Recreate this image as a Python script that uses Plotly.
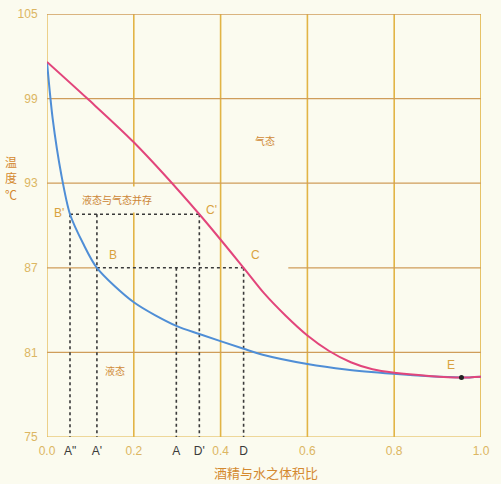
import plotly.graph_objects as go

# ---------------- data ----------------
# vapour (red) curve: volume fraction of alcohol vs temperature
red_x = [0.0, 0.093, 0.2, 0.351, 0.453, 0.5, 0.55, 0.6, 0.65, 0.7, 0.75, 0.8, 0.88, 0.955, 1.0]
red_t = [101.6, 99.0, 95.9, 90.8, 87.0, 85.2, 83.6, 82.2, 81.1, 80.3, 79.8, 79.55, 79.33, 79.22, 79.28]

# liquid (blue) curve
blue_x = [0.0, 0.013, 0.033, 0.053, 0.083, 0.115, 0.2, 0.298, 0.351, 0.453, 0.497, 0.6, 0.689, 0.798, 0.881, 0.955, 1.0]
blue_t = [101.6, 97.6, 93.6, 90.8, 88.74, 87.0, 84.56, 82.88, 82.3, 81.26, 80.84, 80.18, 79.79, 79.48, 79.3, 79.22, 79.28]

# azeotrope point E
e_x = [0.955]
e_t = [79.22]

# construction points
x_A2, x_A1, x_A, x_D1, x_D = 0.053, 0.115, 0.298, 0.351, 0.453
t_B1, t_B = 90.8, 87.0
t_min, t_max = 75, 105

# tick labels
x_tickvals = [0.0, x_A2, x_A1, 0.2, x_A, x_D1, 0.4, x_D, 0.6, 0.8, 1.0]
x_ticktext = ["0.0", 'A"', "A'", "0.2", "A", "D'", "0.4", "D", "0.6", "0.8", "1.0"]
letter_ticks = {'A"', "A'", "A", "D'", "D"}
y_tickvals = [75, 81, 87, 93, 99, 105]
y_title_chars = ["温", "度", "℃"]

grid_v = [0.2, 0.4, 0.6, 0.8, 1.0]
grid_h = [81, 93, 99, 105]
grid_87_segments = [(0.0, x_A1), (0.556, 1.0)]

# ---------------- styling ----------------
BG = "#fbfbef"
VGRID = "#e2b445"
HGRID = "#cf9d5a"
RED = "#e2457b"
BLUE = "#4f8ed6"
LABEL = "#d9a23e"
TICK = "#dcb662"
DARK = "#3a3a3a"
TITLE = "#d4892f"
FONT = "Liberation Sans, Noto Sans CJK SC, sans-serif"
CJK = "Noto Sans CJK SC, sans-serif"

fig = go.Figure()

shapes = []
# left and bottom borders
shapes.append(dict(type="line", xref="x", yref="y", x0=0, x1=0, y0=t_min, y1=t_max,
                   line=dict(color=VGRID, width=1.2), layer="below"))
shapes.append(dict(type="line", xref="x", yref="y", x0=0, x1=1, y0=t_min, y1=t_min,
                   line=dict(color=VGRID, width=1.2), layer="below"))
for gx in grid_v:
    shapes.append(dict(type="line", xref="x", yref="y", x0=gx, x1=gx, y0=t_min, y1=t_max,
                       line=dict(color=VGRID, width=1.6), layer="below"))
for gy in grid_h:
    shapes.append(dict(type="line", xref="x", yref="y", x0=0, x1=1, y0=gy, y1=gy,
                       line=dict(color=HGRID, width=1.3), layer="below"))
for a, b in grid_87_segments:
    shapes.append(dict(type="line", xref="x", yref="y", x0=a, x1=b, y0=87, y1=87,
                       line=dict(color=HGRID, width=1.3), layer="below"))

# dotted construction lines
dot = dict(color=DARK, width=1.6, dash="dot")
dotted = [
    ([x_A2, x_D1], [t_B1, t_B1]),
    ([x_A1, x_D], [t_B, t_B]),
    ([x_A2, x_A2], [t_B1, t_min]),
    ([x_A1, x_A1], [t_B1, t_min]),
    ([x_A, x_A], [t_B, t_min]),
    ([x_D1, x_D1], [t_B1, t_min]),
    ([x_D, x_D], [t_B, t_min]),
]
for xs, ys in dotted:
    fig.add_trace(go.Scatter(x=xs, y=ys, mode="lines", line=dot, hoverinfo="skip", showlegend=False))

fig.add_trace(go.Scatter(x=blue_x, y=blue_t, mode="lines",
                         line=dict(color=BLUE, width=2, shape="spline", smoothing=0.8), showlegend=False))
fig.add_trace(go.Scatter(x=red_x, y=red_t, mode="lines",
                         line=dict(color=RED, width=2, shape="spline", smoothing=0.8), showlegend=False))
fig.add_trace(go.Scatter(x=e_x, y=e_t, mode="markers",
                         marker=dict(color="#222", size=5), showlegend=False))

annotations = []
def lab(text, x, y, size=12, color=LABEL, family=FONT, **kw):
    annotations.append(dict(text=text, x=x, y=y, xref="x", yref="y", showarrow=False,
                            font=dict(size=size, color=color, family=family), **kw))

lab("B'", 0.028, 90.9)
lab("B", 0.152, 87.93)
lab("C'", 0.378, 91.07)
lab("C", 0.480, 87.93)
lab("E", 0.931, 80.14)
lab("气态", 0.503, 96.0, size=10, color="#d08a38", family=CJK)
lab("液态与气态并存", 0.162, 91.81, size=10, color="#cc8536", family=CJK, bgcolor=BG, borderpad=5)
lab("液态", 0.156, 79.74, size=10, color="#d08a38", family=CJK)

# axis titles (y title stacked vertically, one character per line)
for i, ch in enumerate(y_title_chars):
    annotations.append(dict(text=ch, xref="paper", yref="paper", x=-0.083, y=0.651 - i * 0.0385,
                            xanchor="center", yanchor="middle",
                            showarrow=False, font=dict(size=12, color=TITLE, family=CJK)))
annotations.append(dict(text="酒精与水之体积比", xref="paper", yref="paper", x=0.505, y=-0.083,
                        xanchor="center", yanchor="middle",
                        showarrow=False, font=dict(size=13, color=TITLE, family=CJK)))

ticktext_styled = [f'<span style="color:{DARK}">{t}</span>' if t in letter_ticks else t for t in x_ticktext]

fig.update_layout(
    width=501, height=484,
    margin=dict(l=47, r=20, t=7, b=47),
    paper_bgcolor=BG, plot_bgcolor=BG,
    shapes=shapes, annotations=annotations,
    xaxis=dict(range=[0, 1], tickvals=x_tickvals, ticktext=ticktext_styled,
               showgrid=False, zeroline=False, showline=False,
               ticks="outside", ticklen=3, tickcolor=BG,
               tickfont=dict(size=12, color=TICK, family=FONT)),
    yaxis=dict(range=[t_min, t_max], tickvals=y_tickvals,
               showgrid=False, zeroline=False, showline=False,
               ticks="outside", ticklen=6, tickcolor=BG,
               tickfont=dict(size=12, color=TICK, family=FONT)),
)

fig.write_html("out.html")
